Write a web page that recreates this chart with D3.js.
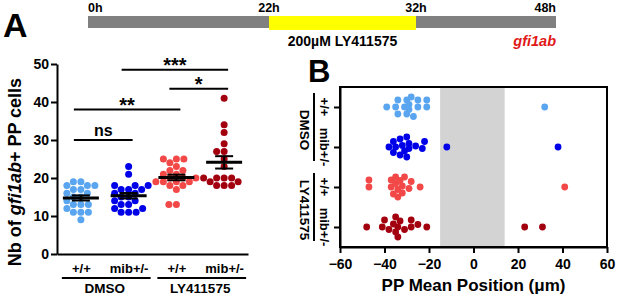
<!DOCTYPE html>
<html>
<head>
<meta charset="utf-8">
<script src="https://cdn.jsdelivr.net/npm/d3@7"></script>
<style>
  body { margin: 0; background: #fff; }
  svg { display: block; font-family: "Liberation Sans", Arial, sans-serif; font-weight: bold; }
</style>
</head>
<body>
<div class="canvas"></div>
<script>
// groups, in plotting order
const groupLabels = ['+/+', 'mib+/-', '+/+', 'mib+/-']
const treatmentLabels = ['DMSO', 'LY411575']
const groupColors = ['#5aa5f0', '#0000e8', '#f24848', '#a3000f']

// panel A: nb of gfi1ab+ PP cells per embryo
const cellsWtDmso = [19, 19, 18, 18, 18, 17, 17, 16, 16, 15, 15, 14, 13, 13, 13, 12, 11, 11, 11, 9]
const cellsMibDmso = [23, 21, 18, 18, 18, 17, 17, 17, 16, 16, 15, 15, 14, 14, 13, 13, 12, 12, 11, 11, 11]
const cellsWtLy = [25, 25, 25, 24, 23, 22, 22, 21, 21, 20, 20, 20, 19, 19, 19, 19, 18, 18, 17, 13, 13]
const cellsMibLy = [41, 34, 32, 29, 27, 27, 25, 23, 20, 20, 20, 20, 19, 19, 18, 18, 18]

// panel B: PP mean position (um)
const posWtDmso = [-39, -35, -34, -34, -31, -30, -30, -29, -29, -28, -27, -25, -25, -21, -21, 32]
const posMibDmso = [-38, -36, -36, -35, -33, -33, -32, -31, -30, -30, -29, -29, -26, -23, -22, -12, 38]
const posWtLy = [-47, -47, -37, -37, -36, -35, -35, -34, -34, -33, -32, -32, -31, -29, -28, -24, 41]
const posMibLy = [-48, -41, -40, -38, -36, -35, -35, -34, -34, -33, -31, -28, -28, -25, -21, 23, 31]

const countTicks = [0, 10, 20, 30, 40, 50]
const positionTicks = [-60, -40, -20, 0, 20, 40, 60]
const middleZone = [-15, 14]

// statistics brackets (y level in cell counts)
const comparisons = [
    { a: 0, b: 1, level: 30, label: 'ns' },
    { a: 0, b: 2, level: 38, label: '**' },
    { a: 2, b: 3, level: 43.5, label: '*' },
    { a: 1, b: 3, level: 48.5, label: '***' }
]

// timeline (hours)
const timePoints = [0, 22, 32, 48]
const treatmentWindow = [22, 32]

const cells = [cellsWtDmso, cellsMibDmso, cellsWtLy, cellsMibLy]
const positions = [posWtDmso, posMibDmso, posWtLy, posMibLy]

const svg = d3.select('.canvas')
    .append('svg')
    .attr('width', 617)
    .attr('height', 300)

// simple beeswarm: offset each dot sideways until it stops overlapping
const swarm = (vals, scale, dist, maxOff) => {
    const placed = []
    const offs = new Array(vals.length)
    const cands = [0]
    for (let s = 0.5; s <= maxOff; s += 0.5) cands.push(-s, s)
    d3.range(vals.length)
        .sort((i, j) => vals[i] - vals[j])
        .forEach(i => {
            const p = scale(vals[i])
            let best = 0, bestD = -1
            for (const o of cands) {
                let m = Infinity
                for (const q of placed) m = Math.min(m, Math.hypot(q.p - p, q.o - o))
                if (m >= dist) { best = o; break }
                if (m > bestD) { bestD = m; best = o }
            }
            placed.push({ p, o: best })
            offs[i] = best
        })
    return offs
}

const styleAxis = (g) => {
    g.select('.domain').attr('stroke-width', 2)
    g.selectAll('.tick line').attr('stroke-width', 2)
    g.selectAll('.tick text').attr('font-family', null).attr('font-weight', 'bold')
}

// ---------- timeline ----------
const t = d3.scaleLinear().domain(timePoints).range([88, 269, 416, 556])
const timeline = svg.append('g')

timeline.append('rect')
    .attr('x', t(0)).attr('y', 16)
    .attr('width', t(48) - t(0)).attr('height', 12)
    .attr('fill', '#808080')

timeline.append('rect')
    .attr('x', t(treatmentWindow[0])).attr('y', 16)
    .attr('width', t(treatmentWindow[1]) - t(treatmentWindow[0])).attr('height', 14)
    .attr('fill', '#ffff00')

timeline.selectAll('text.hour')
    .data(timePoints)
    .enter().append('text')
    .attr('class', 'hour')
    .attr('x', d => t(d))
    .attr('y', 12)
    .attr('font-size', 12.5)
    .attr('text-anchor', (d, i) => i === 0 ? 'start' : i === timePoints.length - 1 ? 'end' : 'middle')
    .text(d => d + 'h')

timeline.append('text')
    .attr('x', (t(treatmentWindow[0]) + t(treatmentWindow[1])) / 2)
    .attr('y', 46)
    .attr('font-size', 14)
    .attr('text-anchor', 'middle')
    .text('200\u00b5M LY411575')

timeline.append('text')
    .attr('x', t(48))
    .attr('y', 46)
    .attr('font-size', 14.5)
    .attr('font-style', 'italic')
    .attr('fill', '#e01818')
    .attr('text-anchor', 'end')
    .text('gfi1ab')

// ---------- panel A ----------
svg.append('text').attr('x', 3).attr('y', 37).attr('font-size', 34).text('A')

const xA = d3.scalePoint().domain(d3.range(4)).range([57, 248]).padding(0.5)
const yA = d3.scaleLinear().domain([0, 50]).range([254, 64])

const panelA = svg.append('g')

panelA.append('g')
    .attr('transform', 'translate(57,0)')
    .call(d3.axisLeft(yA).tickValues(countTicks).tickSize(6).tickSizeOuter(0).tickPadding(2))
    .attr('font-size', 14)
    .call(styleAxis)

panelA.append('g')
    .attr('transform', 'translate(0,254)')
    .call(d3.axisBottom(xA).tickSize(0).tickSizeOuter(0).tickPadding(10).tickFormat(i => groupLabels[i]))
    .attr('font-size', 13)
    .call(styleAxis)

treatmentLabels.forEach((label, k) => {
    const x0 = xA(2 * k) - 19
    const x1 = xA(2 * k + 1) + 22
    panelA.append('line')
        .attr('x1', x0).attr('x2', x1).attr('y1', 278).attr('y2', 278)
        .attr('stroke', '#000').attr('stroke-width', 2)
    panelA.append('text')
        .attr('x', (xA(2 * k) + xA(2 * k + 1)) / 2)
        .attr('y', 293)
        .attr('font-size', 13.5)
        .attr('text-anchor', 'middle')
        .text(label)
})

const yTitle = panelA.append('text')
    .attr('transform', `translate(21,${172}) rotate(-90)`)
    .attr('font-size', 18)
    .attr('text-anchor', 'middle')
yTitle.append('tspan').text('Nb of ')
yTitle.append('tspan').attr('font-style', 'italic').text('gfi1ab')
yTitle.append('tspan').text('+ PP cells')

// dots
cells.forEach((vals, i) => {
    const offs = swarm(vals, yA, 7.2, 22)
    panelA.append('g')
        .selectAll('circle')
        .data(vals)
        .enter().append('circle')
        .attr('cx', (d, j) => xA(i) + offs[j])
        .attr('cy', d => yA(d))
        .attr('r', 3.5)
        .attr('fill', groupColors[i])
})

// mean +/- SEM
cells.forEach((vals, i) => {
    const m = d3.mean(vals)
    const sem = d3.deviation(vals) / Math.sqrt(vals.length)
    const cx = xA(i)
    const g = panelA.append('g').attr('stroke', '#000')
    g.append('line')
        .attr('x1', cx - 18).attr('x2', cx + 18)
        .attr('y1', yA(m)).attr('y2', yA(m))
        .attr('stroke-width', 3)
    g.append('line')
        .attr('x1', cx).attr('x2', cx)
        .attr('y1', yA(m - sem)).attr('y2', yA(m + sem))
        .attr('stroke-width', 2)
    ;[m - sem, m + sem].forEach(v => {
        g.append('line')
            .attr('x1', cx - 9).attr('x2', cx + 9)
            .attr('y1', yA(v)).attr('y2', yA(v))
            .attr('stroke-width', 2)
    })
})

// significance brackets
comparisons.forEach(c => {
    const x0 = xA(c.a) - 7
    const x1 = xA(c.b) + 4
    const y = yA(c.level)
    panelA.append('line')
        .attr('x1', x0).attr('x2', x1).attr('y1', y).attr('y2', y)
        .attr('stroke', '#000').attr('stroke-width', 2)
    const isStar = c.label !== 'ns'
    panelA.append('text')
        .attr('x', (x0 + x1) / 2)
        .attr('y', isStar ? y + 2 : y - 4)
        .attr('font-size', isStar ? 20 : 16)
        .attr('text-anchor', 'middle')
        .text(c.label)
})

// ---------- panel B ----------
svg.append('text').attr('x', 308).attr('y', 82).attr('font-size', 31).text('B')

const xB = d3.scaleLinear().domain([-60, 60]).range([340, 607])
const yB = d3.scalePoint().domain(d3.range(4)).range([87, 247]).padding(0.5)

const panelB = svg.append('g')

panelB.append('rect')
    .attr('x', xB(middleZone[0])).attr('y', 88)
    .attr('width', xB(middleZone[1]) - xB(middleZone[0])).attr('height', 158)
    .attr('fill', '#d3d3d3')

positions.forEach((vals, i) => {
    const offs = swarm(vals, xB, 7, 10)
    panelB.append('g')
        .selectAll('circle')
        .data(vals)
        .enter().append('circle')
        .attr('cx', d => xB(d))
        .attr('cy', (d, j) => yB(i) + offs[j])
        .attr('r', 3.4)
        .attr('fill', groupColors[i])
})

panelB.append('rect')
    .attr('x', 340).attr('y', 87)
    .attr('width', 267).attr('height', 160)
    .attr('fill', 'none').attr('stroke', '#000').attr('stroke-width', 2)

panelB.append('g')
    .attr('transform', 'translate(0,247)')
    .call(d3.axisBottom(xB).tickValues(positionTicks).tickSize(6).tickSizeOuter(0).tickPadding(6))
    .attr('font-size', 14)
    .call(styleAxis)

panelB.append('g')
    .attr('transform', 'translate(340,0)')
    .call(d3.axisLeft(yB).tickSize(6).tickSizeOuter(0).tickFormat(''))
    .call(styleAxis)

panelB.append('text')
    .attr('x', xB(0))
    .attr('y', 291)
    .attr('font-size', 17)
    .attr('text-anchor', 'middle')
    .text('PP Mean Position (\u03bcm)')

groupLabels.forEach((label, i) => {
    panelB.append('text')
        .attr('transform', `translate(320,${yB(i)}) rotate(90)`)
        .attr('font-size', 13)
        .attr('text-anchor', 'middle')
        .text(label)
})

treatmentLabels.forEach((label, k) => {
    const y0 = yB(2 * k) - 14
    const y1 = yB(2 * k + 1) + 14
    panelB.append('line')
        .attr('x1', 314).attr('x2', 314).attr('y1', y0).attr('y2', y1)
        .attr('stroke', '#000').attr('stroke-width', 2)
    panelB.append('text')
        .attr('transform', `translate(300,${(yB(2 * k) + yB(2 * k + 1)) / 2 + 3}) rotate(90)`)
        .attr('font-size', 13.5)
        .attr('text-anchor', 'middle')
        .text(label)
})
</script>
</body>
</html>
